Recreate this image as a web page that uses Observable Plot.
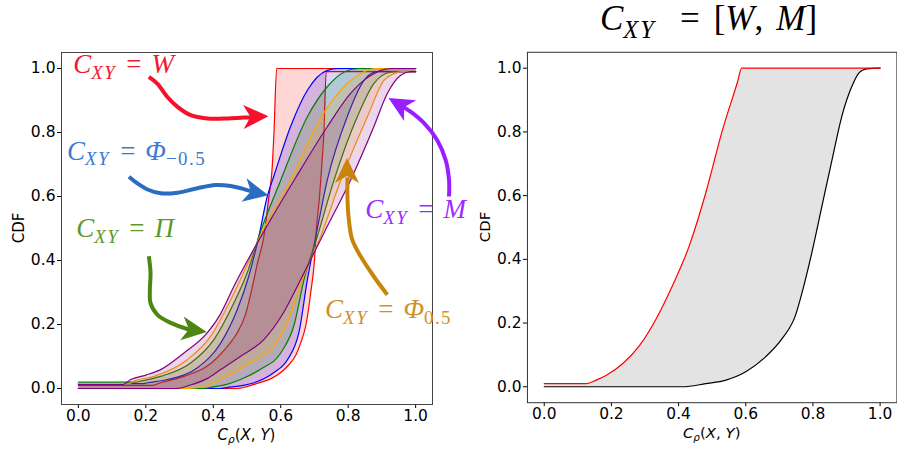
<!DOCTYPE html>
<html><head><meta charset="utf-8">
<script src="https://cdn.jsdelivr.net/npm/d3@7"></script>
<script src="https://cdn.jsdelivr.net/npm/@observablehq/plot@0.6"></script>
<style>
html,body{margin:0;padding:0;background:#fff;overflow:hidden;}
#fig{position:relative;width:897px;height:449px;overflow:hidden;}
#left,#right,#title{position:absolute;top:0;}
#left{left:0;z-index:2;}
#right{left:448px;z-index:1;}
#title{left:0;z-index:3;}
</style></head><body>
<div id="fig"><div id="right"></div><div id="left"></div><svg id="title" width="897" height="50"></svg></div>
<script>
// ---------- data: [x = C_rho(X,Y), CDF] ----------
const xTicks = [0, 0.2, 0.4, 0.6, 0.8, 1.0];
const yTicks = [0, 0.2, 0.4, 0.6, 0.8, 1.0];

// Left panel: p-box bounds per copula
const W_upper = [[0,0.01],[0.22,0.01],[0.244,0.018],[0.313,0.038],[0.382,0.07],[0.442,0.132],[0.471,0.174],[0.495,0.23],[0.516,0.319],[0.531,0.392],[0.55,0.475],[0.565,0.6],[0.574,0.68],[0.58,0.8],[0.588,1.0],[1,1]];
const W_lower = [[0,0],[0.47,0],[0.5,0.006],[0.53,0.016],[0.57,0.03],[0.6,0.05],[0.625,0.075],[0.645,0.105],[0.66,0.145],[0.675,0.2],[0.689,0.3],[0.7,0.4],[0.706,0.5],[0.715,0.6],[0.722,0.7],[0.728,0.8],[0.735,0.99],[1,0.99]];
const Pn_upper = [[0,0.015],[0.19,0.015],[0.205,0.018],[0.264,0.028],[0.353,0.065],[0.422,0.142],[0.471,0.246],[0.505,0.35],[0.535,0.475],[0.56,0.6],[0.58,0.665],[0.629,0.818],[0.679,0.932],[0.738,0.994],[0.77,1],[1,1]];
const Pn_lower = [[0,0],[0.42,0],[0.44,0.003],[0.48,0.008],[0.521,0.018],[0.58,0.05],[0.62,0.09],[0.655,0.18],[0.679,0.34],[0.705,0.48],[0.738,0.651],[0.797,0.849],[0.847,0.963],[0.886,0.99],[1,0.99]];
const Pi_upper = [[0,0.02],[0.17,0.02],[0.185,0.023],[0.244,0.038],[0.333,0.08],[0.402,0.153],[0.461,0.267],[0.5,0.36],[0.54,0.49],[0.6,0.651],[0.679,0.849],[0.738,0.943],[0.79,0.99],[0.83,1],[1,1]];
const Pi_lower = [[0,0],[0.37,0],[0.4,0.005],[0.44,0.013],[0.481,0.028],[0.54,0.06],[0.6,0.111],[0.64,0.2],[0.669,0.34],[0.71,0.48],[0.758,0.651],[0.827,0.849],[0.876,0.953],[0.916,0.986],[0.94,0.99],[1,0.99]];
const Pp_upper = [[0,0.015],[0.15,0.015],[0.165,0.023],[0.224,0.038],[0.323,0.09],[0.392,0.163],[0.452,0.278],[0.5,0.385],[0.545,0.49],[0.629,0.651],[0.709,0.828],[0.778,0.932],[0.847,0.99],[0.88,1],[1,1]];
const Pp_lower = [[0,0],[0.33,0],[0.37,0.007],[0.442,0.038],[0.5,0.075],[0.58,0.132],[0.625,0.22],[0.664,0.34],[0.72,0.48],[0.778,0.651],[0.857,0.849],[0.906,0.963],[0.936,0.984],[0.96,0.99],[1,0.99]];
const M_upper = [[0,0.012],[0.13,0.012],[0.155,0.028],[0.2,0.042],[0.244,0.059],[0.313,0.111],[0.382,0.174],[0.42,0.23],[0.461,0.319],[0.555,0.5],[0.645,0.66],[0.738,0.818],[0.807,0.922],[0.85,0.966],[0.876,0.984],[0.91,0.998],[0.93,1],[1,1]];
const M_lower = [[0,0],[0.29,0],[0.33,0.01],[0.38,0.03],[0.422,0.059],[0.48,0.1],[0.55,0.153],[0.61,0.24],[0.659,0.34],[0.73,0.49],[0.807,0.651],[0.876,0.818],[0.916,0.922],[0.956,0.979],[0.985,0.99],[1,0.99]];

// Right panel: envelope over [W, M]
const WM_upper = [[0,0.01],[0.126,0.01],[0.155,0.021],[0.185,0.036],[0.234,0.073],[0.284,0.13],[0.333,0.213],[0.382,0.318],[0.432,0.443],[0.481,0.609],[0.531,0.807],[0.575,0.955],[0.588,1.0],[1,1]];
const WM_lower = [[0,0],[0.412,0],[0.481,0.01],[0.541,0.021],[0.6,0.047],[0.659,0.094],[0.708,0.151],[0.748,0.224],[0.768,0.297],[0.797,0.422],[0.827,0.568],[0.857,0.713],[0.886,0.849],[0.916,0.943],[0.936,0.984],[0.96,0.998],[1,1]];

// Annotations (data coordinates)
const arrowW  = [[0.209,0.974],[0.234,0.953],[0.264,0.911],[0.294,0.88],[0.333,0.854],[0.382,0.844],[0.442,0.844],[0.491,0.847],[0.53,0.848]];
const arrowPn = [[0.15,0.662],[0.175,0.641],[0.205,0.622],[0.244,0.61],[0.294,0.612],[0.353,0.626],[0.407,0.636],[0.452,0.633],[0.491,0.623],[0.53,0.61]];
const arrowPi = [[0.209,0.413],[0.214,0.361],[0.212,0.309],[0.214,0.267],[0.234,0.231],[0.274,0.205],[0.323,0.186],[0.35,0.18]];
const arrowM  = [[1.099,0.6],[1.099,0.652],[1.089,0.714],[1.064,0.776],[1.025,0.829],[0.985,0.865],[0.952,0.887]];
const arrowPp = [[0.916,0.293],[0.876,0.35],[0.837,0.413],[0.812,0.465],[0.802,0.527],[0.798,0.589],[0.798,0.66]];
const arrowTips = [[0.565,0.849],[0.565,0.602],[0.382,0.175],[0.921,0.906],[0.798,0.719]];

const series = [
  {name: "W", upper: W_upper, lower: W_lower, color: "red"},
  {name: "Phi-0.5", upper: Pn_upper, lower: Pn_lower, color: "blue"},
  {name: "Pi", upper: Pi_upper, lower: Pi_lower, color: "green"},
  {name: "Phi0.5", upper: Pp_upper, lower: Pp_lower, color: "orange"},
  {name: "M", upper: M_upper, lower: M_lower, color: "purple"}
];

const labels = [
  {x: -0.014, y: 0.985, parts: [["C","i"],["XY","si"],["=","r",10],["W","i",10]], color: "#f5172e"},
  {x: -0.032, y: 0.714, parts: [["C","i"],["XY","si"],["=","r",10],["Φ","i",10],["−0.5","sr"]], color: "#3b7ad2"},
  {x: -0.005, y: 0.471, parts: [["C","i"],["XY","si"],["=","r",10],["Π","i",10]], color: "#5b9a2a"},
  {x: 0.852, y: 0.532, parts: [["C","i"],["XY","si"],["=","r",10],["M","i",10]], color: "#9b2cff"},
  {x: 0.733, y: 0.22, parts: [["C","i"],["XY","si"],["=","r",10],["Φ","i",10],["0.5","sr"]], color: "#cf9127"}
];
const arrows = [
  {pts: arrowW, tip: arrowTips[0], color: "#f5102b"},
  {pts: arrowPn, tip: arrowTips[1], color: "#2b6cc2"},
  {pts: arrowPi, tip: arrowTips[2], color: "#4d8613"},
  {pts: arrowM, tip: arrowTips[3], color: "#9a1fff"},
  {pts: arrowPp, tip: arrowTips[4], color: "#c8850b"}
];

// ---------- helpers ----------
const SERIF = "'Liberation Serif', 'DejaVu Serif', serif";
const SANS = "'DejaVu Sans', sans-serif";
function drawMath(sel, x, y, parts, fs, color, family, anchor, subSpacing) {
  const t = sel.append("text").attr("x", x).attr("y", y).attr("fill", color)
    .attr("font-family", family).attr("font-size", fs)
    .attr("text-anchor", anchor || "start").style("white-space", "pre");
  let shift = 0;
  for (const [s, kind, dx] of parts) {
    const sub = kind[0] === "s";
    const target = sub ? fs * 0.22 : 0;
    const sp = t.append("tspan").text(s)
      .attr("font-style", kind.endsWith("i") ? "italic" : "normal")
      .attr("font-size", sub ? fs * 0.7 : fs)
      .attr("dy", target - shift);
    if (dx) sp.attr("dx", dx);
    if (sub && subSpacing) sp.attr("letter-spacing", subSpacing);
    shift = target;
  }
  return t;
}
const px = d => d[0], py = d => d[1];

function axisLabels(ylab) {
  return (index, scales, values, dims) => {
    const g = d3.create("svg:g");
    const cx = dims.marginLeft + (dims.width - dims.marginLeft - dims.marginRight) / 2;
    drawMath(g, cx, 440, [["C","i"],["ρ","si"],["(","r"],["X","i"],[", ","r"],["Y","i"],[")","r"]], 15, "black", SANS, "middle");
    g.append("text").attr("transform", `translate(${dims.marginLeft - 42.5},228) rotate(-90)`)
      .attr("text-anchor", "middle").attr("dy", "0.35em").attr("font-family", SANS)
      .attr("font-size", 15).attr("fill", "black").text(ylab);
    return g.node();
  };
}

function labelMark(index, scales) {
  const g = d3.create("svg:g");
  for (const l of labels) drawMath(g, scales.x(l.x), scales.y(l.y), l.parts, 27, l.color, SERIF, "start", 1.5);
  return g.node();
}
function headMark(index, scales) {
  const g = d3.create("svg:g");
  for (const a of arrows) {
    const last = a.pts[a.pts.length - 1];
    const tx = scales.x(a.tip[0]), ty = scales.y(a.tip[1]);
    const bx = scales.x(last[0]), by = scales.y(last[1]);
    let ux = tx - bx, uy = ty - by; const n = Math.hypot(ux, uy); ux /= n; uy /= n;
    const L = 25, W = 12, N = 7;
    const p = [[tx, ty], [tx - L*ux - W*uy, ty - L*uy + W*ux], [tx - (L-N)*ux, ty - (L-N)*uy], [tx - L*ux + W*uy, ty - L*uy - W*ux]];
    g.append("path").attr("d", "M" + p.map(q => q.join(",")).join("L") + "Z").attr("fill", a.color);
  }
  return g.node();
}

const common = {
  height: 449, marginTop: 52, marginBottom: 45,
  x: {domain: [-0.05, 1.05], ticks: xTicks, tickFormat: d3.format(".1f"), tickSize: 4, tickPadding: 1.5, label: null},
  y: {domain: [-0.05, 1.05], ticks: yTicks, tickFormat: d3.format(".1f"), tickSize: 4, tickPadding: 2, label: null},
  style: {fontFamily: SANS, fontSize: "15.5px", overflow: "visible", background: "transparent", color: "black"}
};
const CURVE = "monotone-x";

// ---------- left panel ----------
const leftMarks = [];
for (const s of series) {
  leftMarks.push(Plot.line([...s.upper, ...s.lower.slice().reverse()], {x: px, y: py, fill: s.color, fillOpacity: 0.16, stroke: "none", curve: CURVE}));
  leftMarks.push(Plot.line(s.upper, {x: px, y: py, stroke: s.color, strokeWidth: 1.2, curve: CURVE}));
  leftMarks.push(Plot.line(s.lower, {x: px, y: py, stroke: s.color, strokeWidth: 1.2, curve: CURVE}));
}
leftMarks.push(Plot.frame({stroke: "#444"}));
for (const a of arrows) leftMarks.push(Plot.line(a.pts, {x: px, y: py, stroke: a.color, strokeWidth: 4, curve: "catmull-rom", strokeLinecap: "butt"}));
leftMarks.push(headMark, labelMark, axisLabels("CDF"));

const left = Plot.plot({...common, width: 448, marginLeft: 61, marginRight: 16, marks: leftMarks});
document.getElementById("left").append(left);

// ---------- right panel ----------
const right = Plot.plot({...common, width: 451, marginLeft: 79.3, marginRight: 0.6, marks: [
  Plot.line([...WM_upper, ...WM_lower.slice().reverse()], {x: px, y: py, fill: "#e3e3e3", stroke: "none", curve: CURVE}),
  Plot.line(WM_lower, {x: px, y: py, stroke: "black", strokeWidth: 1.2, curve: CURVE}),
  Plot.line(WM_upper, {x: px, y: py, stroke: "red", strokeWidth: 1.2, curve: CURVE}),
  Plot.frame({stroke: "#333"}),
  axisLabels("CDF")
]});
document.getElementById("right").append(right);

// ---------- title ----------
drawMath(d3.select("#title"), 600, 30, [["C","i"],["XY","si"],["=","r",24],["[","r",14],["W","i"],[",","r"],["M","i",13],["]","r"]], 35, "black", SERIF, "start", 2);
</script>
</body></html>
